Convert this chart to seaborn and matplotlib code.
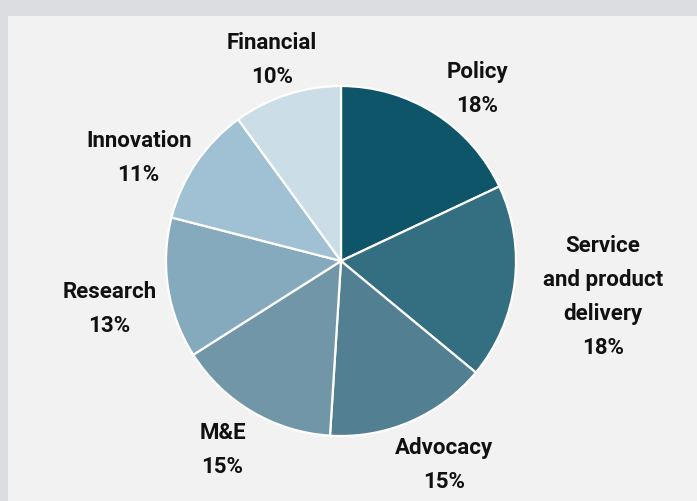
import numpy as np
import matplotlib
matplotlib.use("Agg")
import matplotlib.pyplot as plt
from matplotlib.patches import Rectangle
import seaborn as sns

# data (clockwise from 12 o'clock)
categories = ["Policy", "Service\nand product\ndelivery", "Advocacy", "M&E",
              "Research", "Innovation", "Financial"]
shares = [18, 18, 15, 15, 13, 11, 10]
colors = ["#0f5569", "#346e81", "#527f92", "#7196a8", "#86aabd", "#9fc1d3", "#cbdde7"]

# label placement (distance in radii, angle nudge in degrees)
label_dist = [1.26, 1.51, 1.30, 1.27, 1.35, 1.30, 1.22]
label_nudge = [-5.8, -0.4, 3.6, -1.6, 2.5, 7.0, 0.8]

sns.set_theme(style="white")
plt.rcParams["font.family"] = ["Roboto", "DejaVu Sans"]

W, H = 697, 502
R = 175.0          # pie radius in px
cx, cy = 341, 240  # pie centre in px (from bottom-left)

fig = plt.figure(figsize=(W / 100, H / 100), dpi=100)
fig.patch.set_facecolor("#dcdde0")
fig.add_artist(Rectangle((8 / W, 0), (W - 8) / W, (H - 17) / H,
                         transform=fig.transFigure, facecolor="#f2f2f2",
                         edgecolor="none", zorder=0))

ax = fig.add_axes([0, 0, 1, 1])
ax.patch.set_alpha(0)
wedges, _ = ax.pie(shares, colors=colors, startangle=90, counterclock=False,
                   wedgeprops=dict(edgecolor="white", linewidth=1.6))
ax.set_xlim(-cx / R, (W - cx) / R)
ax.set_ylim(-cy / R, (H - cy) / R)
ax.axis("off")

for w, name, v, d, n in zip(wedges, categories, shares, label_dist, label_nudge):
    ang = np.deg2rad((w.theta1 + w.theta2) / 2 + n)
    ax.text(d * np.cos(ang), d * np.sin(ang), f"{name}\n{v}%",
            ha="center", va="center", multialignment="center",
            fontsize=16, fontweight="bold", color="#111111", linespacing=1.72)

fig.savefig("out.png", dpi=100, facecolor=fig.get_facecolor())
